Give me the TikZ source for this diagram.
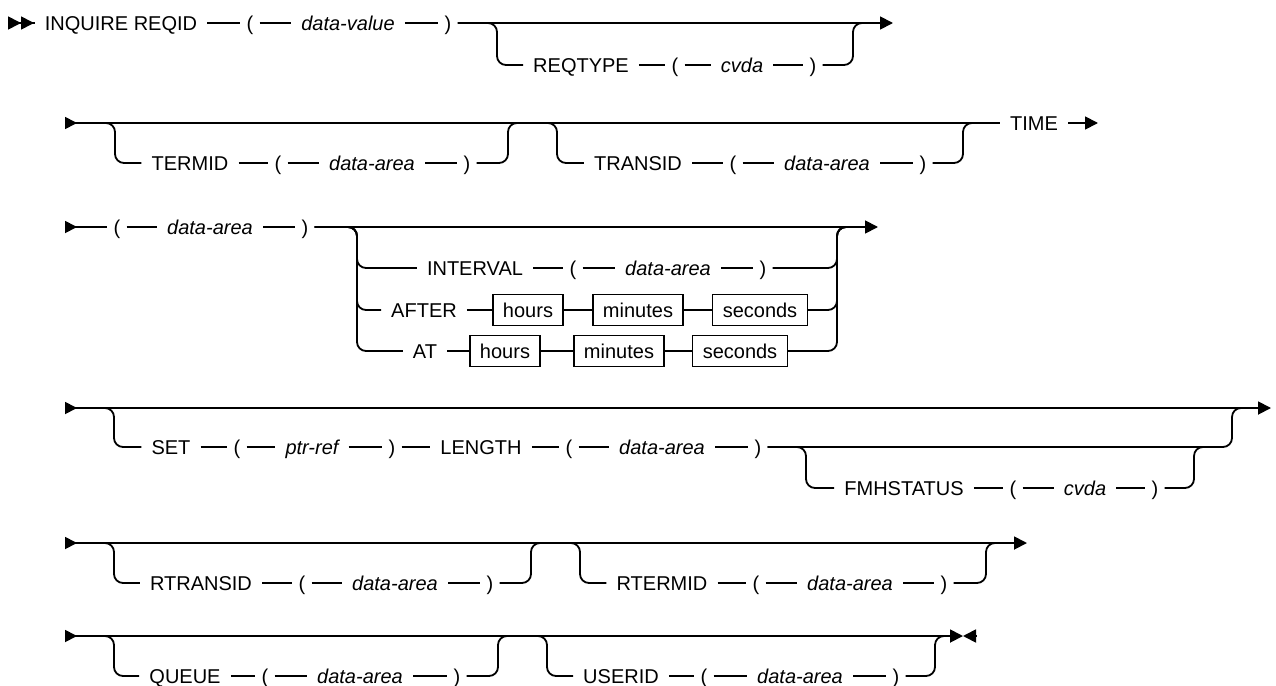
\documentclass[tikz,border=0pt]{standalone}
\usepackage{fontspec}
\setmainfont{Liberation Sans}
\usetikzlibrary{arrows.meta}

\begin{document}
\begin{tikzpicture}[
    x=1pt, y=-1pt,
    tok/.style={inner sep=0pt, inner xsep=10pt, text height=14.3pt, text depth=0pt, font=\fontsize{20}{24}\selectfont},
    kw/.style={tok},
    var/.style={tok, font=\fontsize{20}{24}\selectfont\itshape},
    par/.style={tok, inner xsep=6pt},
    fld/.style={tok, draw, line width=1.4pt, inner xsep=10pt, minimum height=31pt},
    rail/.style={line width=1.8pt, rounded corners=9pt},
    railin/.style={{Triangle[reversed, length=12pt, width=12pt]}-},
    railtip/.style={-{Triangle[length=13pt, width=13pt]}},
    railthru/.style={{Triangle[reversed, length=12pt, width=12pt]}-{Triangle[length=13pt, width=13pt]}},
    railfirst/.style={{Triangle[reversed, length=13pt, width=13pt] Triangle[reversed, length=13pt, width=13pt]}-},
    railstop/.style={{Triangle[length=13pt, width=13pt]}-}
]
    \useasboundingbox (0,0) rectangle (1276,685);

    % Row 1 - command and REQTYPE option
    \coordinate (s1) at (8,23);
    \node[kw] (inq) at (121,23) {INQUIRE REQID};
    \node[par] (lp1) at (250,23) {(};
    \node[var] (dval) at (348,23) {data-value};
    \node[par] (rp1) at (448,23) {)};
    \node[kw] (reqtype) at (581,65) {REQTYPE};
    \node[par] (lp2) at (675,65) {(};
    \node[var] (cvda1) at (742,65) {cvda};
    \node[par] (rp2) at (813,65) {)};
    \coordinate (j1a) at (497,23);
    \coordinate (j1b) at (853,23);
    \coordinate (e1) at (893,23);

    \draw[rail, railfirst] (s1) -- (inq);
    \draw[rail] (inq) -- (lp1) (lp1) -- (dval) (dval) -- (rp1);
    \draw[rail, railtip] (rp1) -- (e1);
    \draw[rail] (rp1) -- (j1a) |- (reqtype);
    \draw[rail] (reqtype) -- (lp2) (lp2) -- (cvda1) (cvda1) -- (rp2);
    \draw[rail] (rp2) -| (j1b) -- ([xshift=12pt]j1b);

    % Row 2 - TERMID, TRANSID, TIME
    \coordinate (s2) at (65,123);
    \node[kw] (termid) at (190,163) {TERMID};
    \node[par] (lp3) at (278,163) {(};
    \node[var] (dar1) at (372,163) {data-area};
    \node[par] (rp3) at (467,163) {)};
    \node[kw] (transid) at (638,163) {TRANSID};
    \node[par] (lp4) at (733,163) {(};
    \node[var] (dar2) at (827,163) {data-area};
    \node[par] (rp4) at (923,163) {)};
    \node[kw] (time) at (1034,123) {TIME};
    \coordinate (j2a) at (115,123);
    \coordinate (j2b) at (508,123);
    \coordinate (j2c) at (557,123);
    \coordinate (j2d) at (963,123);
    \coordinate (e2) at (1098,123);

    \draw[rail, railin] (s2) -- (time);
    \draw[rail, railtip] (time) -- (e2);
    \draw[rail] (s2) -- (j2a) |- (termid);
    \draw[rail] (termid) -- (lp3) (lp3) -- (dar1) (dar1) -- (rp3);
    \draw[rail] (rp3) -| (j2b) -- (j2c) |- (transid);
    \draw[rail] (transid) -- (lp4) (lp4) -- (dar2) (dar2) -- (rp4);
    \draw[rail] (rp4) -| (j2d) -- ([xshift=12pt]j2d);

    % Row 3 - time value and INTERVAL / AFTER / AT choice
    \coordinate (s3) at (65,227);
    \node[par] (lp5) at (117,227) {(};
    \node[var] (dar3) at (210,227) {data-area};
    \node[par] (rp5) at (305,227) {)};
    \node[kw] (intv) at (475,268) {INTERVAL};
    \node[par] (lp6) at (573,268) {(};
    \node[var] (dar4) at (668,268) {data-area};
    \node[par] (rp6) at (763,268) {)};
    \node[kw] (after) at (424,310) {AFTER};
    \node[fld] (hrs1) at (528,310) {hours};
    \node[fld] (min1) at (638,310) {minutes};
    \node[fld] (sec1) at (760,310) {seconds};
    \node[kw] (atkw) at (425,351) {AT};
    \node[fld] (hrs2) at (505,351) {hours};
    \node[fld] (min2) at (619,351) {minutes};
    \node[fld] (sec2) at (740,351) {seconds};
    \coordinate (j3a) at (357,227);
    \coordinate (j3b) at (837,227);
    \coordinate (e3) at (878,227);

    \draw[rail, railin] (s3) -- (lp5);
    \draw[rail] (lp5) -- (dar3) (dar3) -- (rp5);
    \draw[rail, railtip] (rp5) -- (e3);
    \foreach \alt in {intv,after,atkw}
        \draw[rail] (rp5) -- (j3a) |- (\alt);
    \draw[rail] (intv) -- (lp6) (lp6) -- (dar4) (dar4) -- (rp6);
    \draw[rail] (after) -- (hrs1) (hrs1) -- (min1) (min1) -- (sec1);
    \draw[rail] (atkw) -- (hrs2) (hrs2) -- (min2) (min2) -- (sec2);
    \foreach \alt in {rp6,sec1,sec2}
        \draw[rail] (\alt) -| (j3b) -- ([xshift=12pt]j3b);

    % Row 4 - SET ... LENGTH with FMHSTATUS
    \coordinate (s4) at (65,408);
    \node[kw] (setkw) at (171,447) {SET};
    \node[par] (lp7) at (237,447) {(};
    \node[var] (ptr) at (312,447) {ptr-ref};
    \node[par] (rp7) at (392,447) {)};
    \node[kw] (lenkw) at (481,447) {LENGTH};
    \node[par] (lp8) at (569,447) {(};
    \node[var] (dar5) at (662,447) {data-area};
    \node[par] (rp8) at (758,447) {)};
    \node[kw] (fmh) at (904,488) {FMHSTATUS};
    \node[par] (lp9) at (1013,488) {(};
    \node[var] (cvda2) at (1085,488) {cvda};
    \node[par] (rp9) at (1155,488) {)};
    \coordinate (j4a) at (114,408);
    \coordinate (j4b) at (1232,408);
    \coordinate (j4c) at (806,447);
    \coordinate (j4d) at (1194,447);
    \coordinate (e4) at (1271,408);

    \draw[rail, railthru] (s4) -- (e4);
    \draw[rail] (s4) -- (j4a) |- (setkw);
    \draw[rail] (setkw) -- (lp7) (lp7) -- (ptr) (ptr) -- (rp7) (rp7) -- (lenkw)
        (lenkw) -- (lp8) (lp8) -- (dar5) (dar5) -- (rp8);
    \draw[rail] (rp8) -| (j4b) -- ([xshift=12pt]j4b);
    \draw[rail] (rp8) -- (j4c) |- (fmh);
    \draw[rail] (fmh) -- (lp9) (lp9) -- (cvda2) (cvda2) -- (rp9);
    \draw[rail] (rp9) -| (j4d) -- ([xshift=12pt]j4d);

    % Row 5 - RTRANSID, RTERMID
    \coordinate (s5) at (65,543);
    \node[kw] (rtrans) at (201,583) {RTRANSID};
    \node[par] (lp10) at (302,583) {(};
    \node[var] (dar6) at (395,583) {data-area};
    \node[par] (rp10) at (490,583) {)};
    \node[kw] (rterm) at (662,583) {RTERMID};
    \node[par] (lp11) at (756,583) {(};
    \node[var] (dar7) at (850,583) {data-area};
    \node[par] (rp11) at (944,583) {)};
    \coordinate (j5a) at (114,543);
    \coordinate (j5b) at (531,543);
    \coordinate (j5c) at (580,543);
    \coordinate (j5d) at (986,543);
    \coordinate (e5) at (1027,543);

    \draw[rail, railthru] (s5) -- (e5);
    \draw[rail] (s5) -- (j5a) |- (rtrans);
    \draw[rail] (rtrans) -- (lp10) (lp10) -- (dar6) (dar6) -- (rp10);
    \draw[rail] (rp10) -| (j5b) -- (j5c) |- (rterm);
    \draw[rail] (rterm) -- (lp11) (lp11) -- (dar7) (dar7) -- (rp11);
    \draw[rail] (rp11) -| (j5d) -- ([xshift=12pt]j5d);

    % Row 6 - QUEUE, USERID and end of statement
    \coordinate (s6) at (65,636);
    \node[kw] (queue) at (185,676) {QUEUE};
    \node[par] (lp12) at (265,676) {(};
    \node[var] (dar8) at (360,676) {data-area};
    \node[par] (rp12) at (457,676) {)};
    \node[kw] (userid) at (621,676) {USERID};
    \node[par] (lp13) at (704,676) {(};
    \node[var] (dar9) at (800,676) {data-area};
    \node[par] (rp13) at (896,676) {)};
    \coordinate (j6a) at (114,636);
    \coordinate (j6b) at (498,636);
    \coordinate (j6c) at (547,636);
    \coordinate (j6d) at (935,636);
    \coordinate (e6m) at (963,636);
    \coordinate (e6) at (977,636);

    \draw[rail, railthru] (s6) -- (e6m);
    \draw[rail, railstop] (e6m) -- (e6);
    \draw[rail] (s6) -- (j6a) |- (queue);
    \draw[rail] (queue) -- (lp12) (lp12) -- (dar8) (dar8) -- (rp12);
    \draw[rail] (rp12) -| (j6b) -- (j6c) |- (userid);
    \draw[rail] (userid) -- (lp13) (lp13) -- (dar9) (dar9) -- (rp13);
    \draw[rail] (rp13) -| (j6d) -- ([xshift=12pt]j6d);
\end{tikzpicture}
\end{document}
